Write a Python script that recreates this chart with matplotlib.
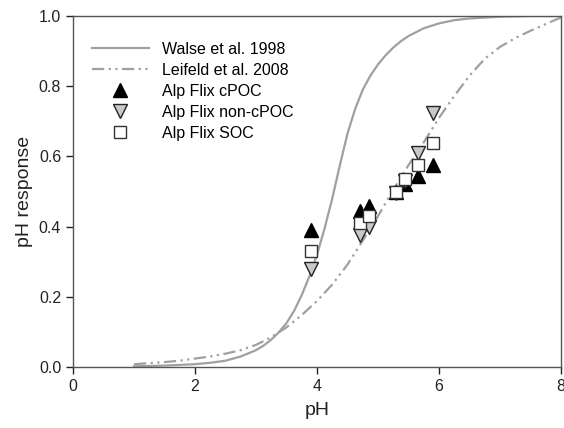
import matplotlib
matplotlib.use('Agg')
import matplotlib.pyplot as plt

plt.rcParams['font.family'] = ['Liberation Sans', 'DejaVu Sans']

# model curves
walse_ph = [1.0, 1.5, 2.0, 2.25, 2.5, 2.75, 3.0, 3.125, 3.25, 3.375, 3.5, 3.625,
            3.75, 3.875, 4.0, 4.125, 4.25, 4.375, 4.5, 4.625, 4.75, 4.875, 5.0,
            5.125, 5.25, 5.375, 5.5, 5.75, 6.0, 6.25, 6.5, 7.0, 7.5, 8.0]
walse_y = [0.002, 0.004, 0.008, 0.012, 0.018, 0.030, 0.048, 0.061, 0.078, 0.099,
           0.125, 0.160, 0.205, 0.258, 0.32, 0.395, 0.48, 0.575, 0.665, 0.735,
           0.79, 0.83, 0.862, 0.888, 0.91, 0.928, 0.943, 0.965, 0.979, 0.988,
           0.993, 0.998, 1.0, 1.0]

leifeld_ph = [1.0, 1.25, 1.5, 1.75, 2.0, 2.25, 2.5, 2.75, 3.0, 3.25, 3.5, 3.75,
              4.0, 4.25, 4.5, 4.75, 5.0, 5.25, 5.5, 5.75, 6.0, 6.25, 6.5, 6.75,
              7.0, 7.25, 7.5, 7.75, 8.0]
leifeld_y = [0.008, 0.011, 0.014, 0.018, 0.024, 0.030, 0.038, 0.048, 0.063, 0.085,
             0.113, 0.148, 0.188, 0.235, 0.292, 0.360, 0.430, 0.505, 0.575, 0.640,
             0.710, 0.772, 0.830, 0.878, 0.912, 0.937, 0.958, 0.977, 0.996]

# Alp Flix measurements
site_ph = [3.9, 4.7, 4.85, 5.3, 5.45, 5.65, 5.9]
cpoc = [0.39, 0.445, 0.46, 0.50, 0.52, 0.545, 0.575]
non_cpoc = [0.28, 0.375, 0.40, 0.495, 0.53, 0.61, 0.725]
soc = [0.33, 0.41, 0.43, 0.50, 0.535, 0.575, 0.638]

fig = plt.figure(figsize=(5.64, 4.28), dpi=100)
ax = fig.add_axes([73/564, 1 - 367/428, 488/564, 351/428])

ax.plot(walse_ph, walse_y, color='#a0a0a0', lw=1.6, label='Walse et al. 1998')
ax.plot(leifeld_ph, leifeld_y, color='#a0a0a0', lw=1.6,
        linestyle=(0, (5.5, 2, 1, 2, 1, 2)), label='Leifeld et al. 2008')
ax.plot(site_ph, cpoc, '^', color='black', mec='black', ms=9.5,
        ls='none', label='Alp Flix cPOC')
ax.plot(site_ph, non_cpoc, 'v', mfc='#c8c8c8', mec='#222222', mew=1, ms=9.5,
        ls='none', label='Alp Flix non-cPOC')
ax.plot(site_ph, soc, 's', mfc='white', mec='#333333', mew=1, ms=8.5,
        ls='none', label='Alp Flix SOC')

ax.set_xlim(0, 8)
ax.set_ylim(0, 1)
ax.set_xticks([0, 2, 4, 6, 8])
ax.set_yticks([0.0, 0.2, 0.4, 0.6, 0.8, 1.0])
ax.set_yticklabels(['0.0', '0.2', '0.4', '0.6', '0.8', '1.0'])
ax.tick_params(direction='out', length=5, width=1, labelsize=11.5, colors='#222222')
for s in ax.spines.values():
    s.set_color('#555555')
    s.set_linewidth(1)

ax.set_xlabel('pH', fontsize=14, color='#222222', labelpad=6)
ax.set_ylabel('pH response', fontsize=14, color='#222222', labelpad=4)

ax.legend(loc='upper left', bbox_to_anchor=(0.025, 0.945), frameon=False,
          fontsize=11.5, handlelength=3.6, handletextpad=0.8, labelspacing=0.38,
          borderaxespad=0)

plt.savefig('out.png', dpi=100)
